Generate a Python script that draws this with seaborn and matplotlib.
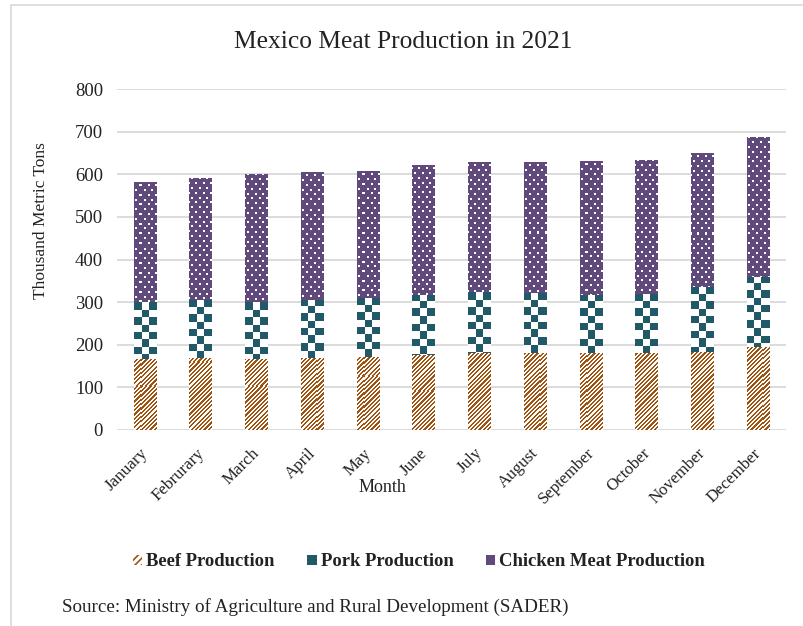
import numpy as np
import pandas as pd
import matplotlib
matplotlib.use("Agg")
import matplotlib.pyplot as plt
import matplotlib.transforms as mtrans
import seaborn as sns
from matplotlib.patches import Patch
from matplotlib.lines import Line2D
from matplotlib.colors import to_rgb

# ---------------- data (thousand metric tons) ----------------
months = ["January", "Februrary", "March", "April", "May", "June", "July",
          "August", "September", "October", "November", "December"]
beef = [167, 170, 167, 168, 172, 176, 180, 180, 180, 180, 182, 194]
pork = [133, 135, 133, 137, 138, 141, 143, 141, 137, 139, 153, 165]
chicken = [282, 286, 300, 301, 298, 305, 306, 308, 315, 314, 315, 328]
series_names = ["Beef Production", "Pork Production", "Chicken Meat Production"]
y_ticks = [0, 100, 200, 300, 400, 500, 600, 700, 800]

title = "Mexico Meat Production in 2021"
x_label = "Month"
y_label = "Thousand Metric Tons"
source = "Source: Ministry of Agriculture and Rural Development (SADER)"

# ---------------- style ----------------
sns.set_theme(style="white")
plt.rcParams['font.family'] = ['Liberation Serif', 'DejaVu Serif']
plt.rcParams['hatch.linewidth'] = 1.2

BEEF_C = "#A0520F"
PORK_C = "#215968"
CHICK_C = "#604A7B"
GRID_C = "#d9d9d9"
TEXT_C = "#222222"

df = pd.DataFrame({"Month": months, "Beef": beef, "Pork": pork, "Chicken": chicken})
df["PorkBase"] = df["Beef"]
df["ChickBase"] = df["Beef"] + df["Pork"]

W, H = 804, 626
fig = plt.figure(figsize=(W / 100, H / 100), dpi=100)
ax = fig.add_axes([117 / W, 1 - 430 / H, (786 - 117) / W, (430 - 89) / H])

common = dict(data=df, x="Month", order=months, saturation=1, width=0.4,
              errorbar=None, linewidth=0, ax=ax)

n0 = len(ax.patches)
sns.barplot(y="Beef", color="white", zorder=3, **common)
beef_patches = ax.patches[n0:]
n1 = len(ax.patches)
sns.barplot(y="Pork", bottom=df["PorkBase"].to_numpy(), color="white", zorder=3, **common)
pork_patches = ax.patches[n1:]
n2 = len(ax.patches)
sns.barplot(y="Chicken", bottom=df["ChickBase"].to_numpy(), color=CHICK_C, zorder=3, **common)
chick_patches = ax.patches[n2:]

ax.set_ylim(0, 800)
ax.set_xlim(-0.5, len(months) - 0.5)
ax.set_yticks(y_ticks)


def pattern_fill(patch, kind):
    """Fill a bar patch with a pixel pattern image clipped to it."""
    bb = patch.get_bbox()
    (x0p, y0p), (x1p, y1p) = ax.transData.transform([(bb.x0, bb.y0), (bb.x1, bb.y1)])
    X0 = np.floor(x0p)
    Ytop = np.ceil(y1p)
    nx = int(np.ceil(x1p - X0)) + 1
    ny = int(np.ceil(Ytop - y0p)) + 1
    ii, jj = np.indices((ny, nx)).astype(float)  # ii: rows from top
    if kind == "beef":
        fg, bg = np.array(to_rgb(BEEF_C)), np.ones(3)
        mask = np.mod(jj + ii, 4.3) < 2.2
    elif kind == "pork":
        fg, bg = np.array(to_rgb(PORK_C)), np.ones(3)
        cell = 7.4
        mask = (np.floor(ii / cell) + np.floor(jj / cell)) % 2 == 0
    else:
        fg, bg = np.ones(3), np.array(to_rgb(CHICK_C))
        r = np.floor((ii + 1) / 4.8)
        in_row = (ii + 1 - r * 4.8) < 2
        in_col = np.mod(jj - 2 - (r % 2) * 3.75, 7.5) < 2
        mask = in_row & in_col
    img = np.where(mask[..., None], fg, bg)
    inv = ax.transData.inverted()
    (dx0, dy0), (dx1, dy1) = inv.transform([(X0, Ytop - ny), (X0 + nx, Ytop)])
    im = ax.imshow(img, extent=[dx0, dx1, dy0, dy1], origin="upper", aspect="auto",
                   interpolation="nearest", zorder=3.5)
    im.set_clip_path(patch)


for p in beef_patches:
    pattern_fill(p, "beef")
for p in pork_patches:
    pattern_fill(p, "pork")
for p in chick_patches:
    pattern_fill(p, "chicken")
ax.set_ylim(0, 800)
ax.set_xlim(-0.5, len(months) - 0.5)

# grid / spines
ax.yaxis.grid(True, color=GRID_C, linewidth=1.3)
ax.xaxis.grid(False)
ax.set_axisbelow(True)
for s in ax.spines.values():
    s.set_visible(False)
ax.tick_params(axis="both", length=0)
ax.tick_params(axis="y", labelsize=13.5, pad=10, labelcolor=TEXT_C)

ax.set_xticks(range(len(months)))
ax.set_xticklabels(months, rotation=45, ha="right", va="center",
                   rotation_mode="anchor", fontsize=12.2, color=TEXT_C)
offset = mtrans.ScaledTranslation(1 / 100, -16 / 100, fig.dpi_scale_trans)
for lab in ax.get_xticklabels():
    lab.set_transform(lab.get_transform() + offset)

ax.set_xlabel(x_label, fontsize=13, color=TEXT_C)
ax.xaxis.set_label_coords((382 - 117) / 669, (430 - 488) / 341)
ax.xaxis.label.set_va("center")
ax.set_ylabel(y_label, fontsize=12.5, color=TEXT_C)
ax.yaxis.set_label_coords((41.5 - 117) / 669, (430 - 221) / 341)
ax.yaxis.label.set_va("center")

fig.text(403 / W, 1 - 42 / H, title, ha="center", va="center", fontsize=18.4, color=TEXT_C)

# legend
handles = [
    Patch(facecolor="white", edgecolor=BEEF_C, hatch="/////", linewidth=0),
    Patch(facecolor=PORK_C, edgecolor=PORK_C, linewidth=0),
    Patch(facecolor=CHICK_C, edgecolor="white", hatch=".", linewidth=0),
]
leg = fig.legend(handles, series_names, loc="center", bbox_to_anchor=(419 / W, 1 - 562 / H),
                 ncol=3, frameon=False, handlelength=0.5, handleheight=0.5,
                 handletextpad=0.22, columnspacing=1.75,
                 prop={"family": ["Liberation Serif"], "weight": "bold", "size": 13.4})
for t in leg.get_texts():
    t.set_color(TEXT_C)

fig.text(62 / W, 1 - 607 / H, source, ha="left", va="center", fontsize=13.7, color=TEXT_C)

# chart area border (top and left edges visible)
fig.add_artist(Line2D([11 / W, 1], [1 - 5 / H, 1 - 5 / H], color=GRID_C, linewidth=1.2,
                      transform=fig.transFigure))
fig.add_artist(Line2D([11 / W, 11 / W], [0, 1 - 5 / H], color=GRID_C, linewidth=1.2,
                      transform=fig.transFigure))

fig.savefig("out.png", dpi=100)
